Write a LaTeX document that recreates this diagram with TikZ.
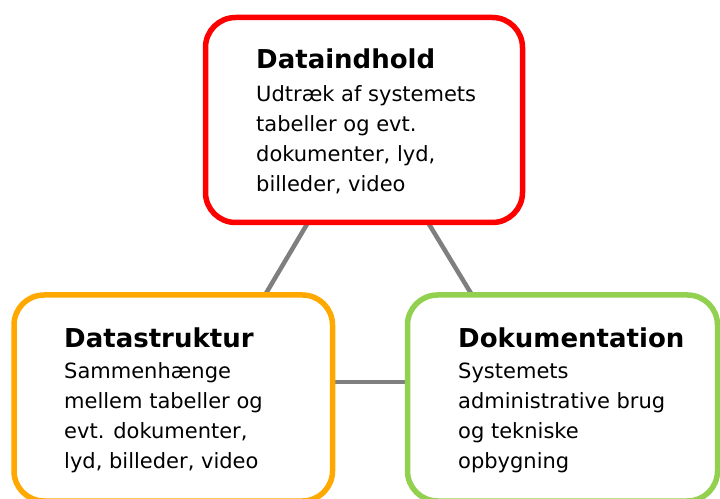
\documentclass[tikz,border=0pt]{standalone}
\usepackage{fontspec}
\setmainfont{DejaVu Sans}
\usetikzlibrary{positioning, backgrounds}
\definecolor{boxred}{HTML}{FF0000}
\definecolor{boxorange}{HTML}{FFA800}
\definecolor{boxgreen}{HTML}{92D050}
\definecolor{linkgray}{HTML}{7F7F7F}

\begin{document}
\begin{tikzpicture}[
            x = 1pt, y = 1pt,
    box/.style = {draw=#1, line width=5.5pt, rounded corners=30pt, fill=white,
                  minimum height=206pt, inner sep=0pt, outer sep=0pt},
  title/.style = {font=\fontsize{26}{30}\selectfont\bfseries,
                  inner sep=0pt, anchor=base west},
   body/.style = {font=\fontsize{21}{30}\selectfont, align=left,
                  inner sep=0pt, anchor=base west},% base = last line
   link/.style = {draw=linkgray, line width=4.5pt}
                        ]
\useasboundingbox (0,0) rectangle (720,498);
% boxes
\node[box=boxred,    minimum width=317pt, minimum height=205pt] (indhold)  at (364,378) {};
\node[box=boxorange, minimum width=318.5pt] (struktur) at (173.25,100) {};
\node[box=boxgreen,  minimum width=310pt]   (dokument) at (562.5,100) {};
% links behind the boxes
\begin{scope}[on background layer]
    \draw[link] ([xshift=-56pt]indhold.south) -- ([xshift=91.75pt]struktur.north);
    \draw[link] ([xshift=64pt]indhold.south)  -- ([xshift=-90.5pt]dokument.north);
    \draw[link] ([yshift=16pt]struktur.east)  -- ([yshift=16pt]dokument.west);
\end{scope}
% texts (4 lines, 30pt apart)
\node[title] (indhold-title)  at ([shift={(50.5,-51)}]indhold.north west)  {Dataindhold};
\node[body]  (indhold-body)   at ([yshift=-123pt]indhold-title.base west)
    {Udtræk af systemets\\tabeller og evt.\\dokumenter, lyd,\\billeder, video};
\node[title] (struktur-title) at ([shift={(50,-52.5)}]struktur.north west) {Datastruktur};
\node[body]  (struktur-body)  at ([yshift=-121pt]struktur-title.base west)
    {Sammenhænge\\mellem tabeller og\\evt. dokumenter,\\lyd, billeder, video};
\node[title] (dokument-title) at ([shift={(50.5,-52.5)}]dokument.north west) {Dokumentation};
\node[body]  (dokument-body)  at ([yshift=-121pt]dokument-title.base west)
    {Systemets\\administrative brug\\og tekniske\\opbygning};
\end{tikzpicture}
\end{document}
